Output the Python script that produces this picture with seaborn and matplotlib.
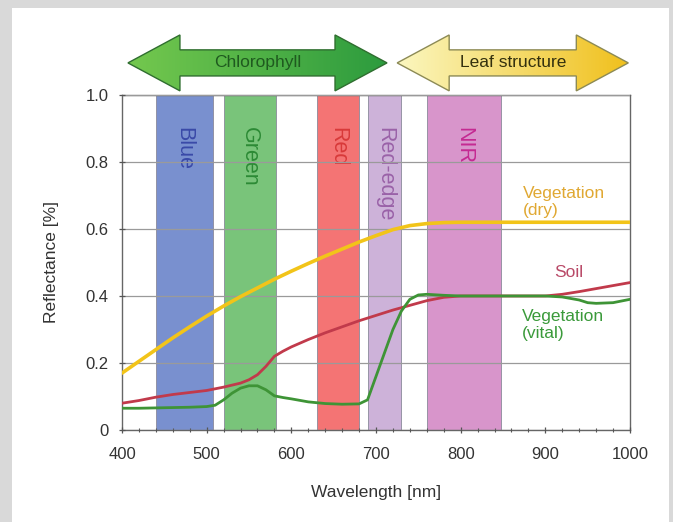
import numpy as np
import pandas as pd
import seaborn as sns
import matplotlib.pyplot as plt
from matplotlib.patches import Polygon, Rectangle
from matplotlib.ticker import MultipleLocator, FuncFormatter

# reflectance curves
wl_dry = [400, 420, 440, 460, 480, 500, 520, 540, 560, 580, 600, 620, 640, 660,
          680, 700, 720, 740, 760, 780, 800, 850, 900, 950, 1000]
refl_dry = [0.170, 0.205, 0.240, 0.275, 0.308, 0.340, 0.370, 0.398, 0.424, 0.450,
            0.474, 0.497, 0.519, 0.540, 0.561, 0.580, 0.598, 0.610, 0.616, 0.619,
            0.620, 0.620, 0.620, 0.620, 0.620]

wl_soil = [400, 420, 440, 460, 480, 500, 520, 540, 550, 560, 570, 580, 590, 600,
           620, 640, 660, 680, 700, 720, 740, 760, 780, 800, 850, 900, 920, 940,
           960, 980, 1000]
refl_soil = [0.080, 0.088, 0.098, 0.106, 0.112, 0.118, 0.128, 0.140, 0.150, 0.165,
             0.190, 0.220, 0.235, 0.248, 0.270, 0.290, 0.308, 0.326, 0.342, 0.358,
             0.372, 0.386, 0.396, 0.400, 0.400, 0.400, 0.405, 0.413, 0.422, 0.431,
             0.440]

wl_vital = [400, 420, 440, 460, 480, 500, 510, 520, 530, 540, 550, 560, 570, 580,
            590, 600, 620, 640, 660, 680, 690, 700, 710, 720, 730, 740, 750, 760,
            780, 800, 850, 900, 920, 940, 950, 960, 980, 1000]
refl_vital = [0.065, 0.065, 0.066, 0.067, 0.068, 0.070, 0.074, 0.090, 0.110, 0.125,
              0.132, 0.132, 0.120, 0.102, 0.097, 0.093, 0.084, 0.079, 0.077, 0.078,
              0.090, 0.160, 0.230, 0.300, 0.355, 0.390, 0.403, 0.405, 0.402, 0.400,
              0.400, 0.400, 0.397, 0.388, 0.380, 0.378, 0.380, 0.390]

# spectral bands (nm)
band_names = ["Blue", "Green", "Red", "Red-edge", "NIR"]
band_start = [440, 520, 630, 690, 760]
band_end = [507, 582, 680, 730, 848]
band_fill = ["#7990cf", "#79c47a", "#f47474", "#cdb2d9", "#d895cb"]
band_text = ["#3a4aa8", "#2c8a35", "#d83a3a", "#9a62a8", "#c42a92"]

# arrows on top (nm span)
arrow_names = ["Chlorophyll", "Leaf structure"]
arrow_start = [407, 725]
arrow_end = [713, 998]

curves = pd.concat([
    pd.DataFrame({"wl": wl_dry, "refl": refl_dry, "type": "dry"}),
    pd.DataFrame({"wl": wl_soil, "refl": refl_soil, "type": "soil"}),
    pd.DataFrame({"wl": wl_vital, "refl": refl_vital, "type": "vital"}),
])
palette = {"dry": "#f2c419", "soil": "#c13a4b", "vital": "#3e9436"}

sns.set_style("ticks")
plt.rcParams["font.family"] = ["Liberation Sans", "DejaVu Sans"]

fig = plt.figure(figsize=(6.73, 5.22), dpi=100)
fig.patch.set_facecolor("#d9d9d9")
fig.patches.append(Rectangle((12 / 673, 0), 657 / 673, 514 / 522, transform=fig.transFigure,
                             facecolor="white", edgecolor="none", zorder=-10))

ax = fig.add_axes([0.1813, 0.1762, 0.7548, 0.642])
ax.set_facecolor("white")

for name, s, e, fc, tc in zip(band_names, band_start, band_end, band_fill, band_text):
    ax.axvspan(s, e, facecolor=fc, edgecolor="#8a8a9a", linewidth=0.6, zorder=1)
    ax.text((s + e) / 2, 0.905, name, rotation=-90, ha="center", va="top",
            fontsize=15.5, color=tc, zorder=2)

sns.lineplot(data=curves, x="wl", y="refl", hue="type", palette=palette, sort=False,
             legend=False, ax=ax, zorder=3)
for line, lw in zip(ax.get_lines()[-3:], [2.6, 2.0, 2.0]):
    line.set_linewidth(lw)
ax.set_axisbelow(False)
ax.yaxis.grid(True, color="#9a9a9a", linewidth=0.9)
for gl in ax.get_ygridlines():
    gl.set_zorder(1.5)

ax.text(873, 0.728, "Vegetation\n(dry)", color="#e0a832", fontsize=12.5, va="top",
        ha="left", linespacing=1.15)
ax.text(928, 0.47, "Soil", color="#b94a68", fontsize=12.5, va="center", ha="center")
ax.text(872, 0.362, "Vegetation\n(vital)", color="#3a9a3a", fontsize=12.5, va="top",
        ha="left", linespacing=1.15)

ax.set_xlim(400, 1000)
ax.set_ylim(0, 1.0)
ax.xaxis.set_major_locator(MultipleLocator(100))
ax.xaxis.set_minor_locator(MultipleLocator(20))
ax.yaxis.set_major_locator(MultipleLocator(0.2))
ax.yaxis.set_major_formatter(FuncFormatter(lambda v, p: "0" if abs(v) < 1e-9 else f"{v:.1f}"))
ax.tick_params(axis="both", which="major", direction="inout", length=5, width=0.9,
               color="#555555", labelsize=12, labelcolor="#333333", pad=7)
ax.tick_params(axis="x", which="major", pad=10)
ax.tick_params(axis="x", which="minor", direction="inout", length=3, width=0.8, color="#555555")
for sp in ax.spines.values():
    sp.set_color("#666666")
    sp.set_linewidth(1.0)
ax.set_xlabel("Wavelength [nm]", fontsize=12.5, color="#333333", labelpad=16)
ax.set_ylabel("Reflectance [%]", fontsize=12.5, color="#333333", labelpad=19)

# double-headed arrows above the plot
arr_ax = fig.add_axes([0.1813, 0.820, 0.7548, 0.119])
arr_ax.set_xlim(400, 1000)
arr_ax.set_ylim(-1, 1)
arr_ax.axis("off")
grad_colors = [("#74c84e", "#2c9b3e"), ("#fbf7c0", "#f0c01c")]
edge_colors = ["#2f6e2f", "#8c8a55"]
text_colors = ["#1f5a1f", "#33300e"]
head, shaft, head_len = 0.9, 0.42, 52 / 0.8467
for name, s, e, gc, ec, tc in zip(arrow_names, arrow_start, arrow_end, grad_colors,
                                   edge_colors, text_colors):
    verts = [(s, 0), (s + head_len, head), (s + head_len, shaft), (e - head_len, shaft),
             (e - head_len, head), (e, 0), (e - head_len, -head), (e - head_len, -shaft),
             (s + head_len, -shaft), (s + head_len, -head)]
    poly = Polygon(verts, closed=True, facecolor="none", edgecolor=ec, linewidth=1.0, zorder=3)
    arr_ax.add_patch(poly)
    cmap = sns.blend_palette([gc[0], gc[1]], as_cmap=True)
    im = arr_ax.imshow(np.linspace(0, 1, 256)[None, :], cmap=cmap, aspect="auto",
                       extent=[s, e, -1, 1], zorder=2)
    im.set_clip_path(poly)
    arr_ax.text((s + e) / 2, 0.02, name, ha="center", va="center", fontsize=12.5,
                color=tc, zorder=4)
arr_ax.set_xlim(400, 1000)
arr_ax.set_ylim(-1, 1)

fig.savefig("out.png", dpi=100, facecolor=fig.get_facecolor())
